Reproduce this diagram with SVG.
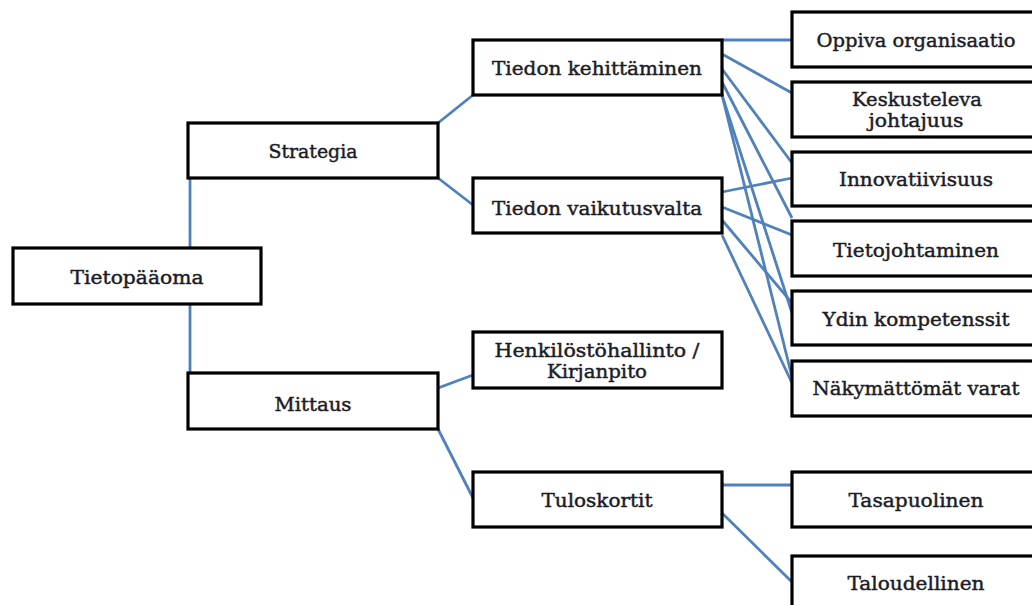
<svg xmlns="http://www.w3.org/2000/svg" width="1032" height="605" viewBox="0 0 1032 605">
<style>
.box{fill:#fff;stroke:#000;stroke-width:3.2}
.t{font-family:"DejaVu Serif","Liberation Serif",serif;font-size:19px;fill:#1c1c26;stroke:#1c1c26;stroke-width:0.45;text-anchor:middle}
.c line{stroke:#4f81bd;stroke-width:2.8;stroke-linecap:butt}
</style>
<rect width="1032" height="605" fill="#fff"/>
<g class="c" id="connectors">
<line x1="190" y1="178" x2="190" y2="248"/>
<line x1="190" y1="304" x2="190" y2="373"/>
<line x1="438" y1="123" x2="473" y2="95"/>
<line x1="438" y1="178" x2="473" y2="205"/>
<line x1="438" y1="388" x2="473" y2="375"/>
<line x1="438" y1="429" x2="473" y2="498"/>
<line x1="722" y1="485" x2="792" y2="485"/>
<line x1="722" y1="513" x2="792" y2="582"/>
<line x1="722" y1="40" x2="792" y2="40"/>
<line x1="722" y1="54" x2="792" y2="93"/>
<line x1="722" y1="69" x2="792" y2="163"/>
<line x1="722" y1="82" x2="792" y2="218"/>
<line x1="722" y1="95" x2="792" y2="313"/>
<line x1="722" y1="95" x2="792" y2="377"/>
<line x1="722" y1="192" x2="792" y2="178"/>
<line x1="722" y1="207" x2="792" y2="235"/>
<line x1="722" y1="220" x2="792" y2="303"/>
<line x1="722" y1="235" x2="792" y2="383"/>
</g>
<g id="n-tietopaaoma"><rect class="box" x="13" y="248" width="248" height="56"/><text class="t" x="137" y="284" textLength="133" lengthAdjust="spacingAndGlyphs">Tietopääoma</text></g>
<g id="n-strategia"><rect class="box" x="188" y="123" width="250" height="55"/><text class="t" x="313" y="158" textLength="89" lengthAdjust="spacingAndGlyphs">Strategia</text></g>
<g id="n-mittaus"><rect class="box" x="188" y="373" width="250" height="56"/><text class="t" x="313" y="411" textLength="77" lengthAdjust="spacingAndGlyphs">Mittaus</text></g>
<g id="n-kehittaminen"><rect class="box" x="473" y="40" width="249" height="55"/><text class="t" x="597" y="75" textLength="210" lengthAdjust="spacingAndGlyphs">Tiedon kehittäminen</text></g>
<g id="n-vaikutusvalta"><rect class="box" x="473" y="178" width="249" height="55"/><text class="t" x="597" y="215" textLength="210" lengthAdjust="spacingAndGlyphs">Tiedon vaikutusvalta</text></g>
<g id="n-henkilosto"><rect class="box" x="473" y="332" width="249" height="56"/><text class="t" x="597" y="357" textLength="205" lengthAdjust="spacingAndGlyphs">Henkilöstöhallinto /</text><text class="t" x="597" y="378" textLength="100" lengthAdjust="spacingAndGlyphs">Kirjanpito</text></g>
<g id="n-tuloskortit"><rect class="box" x="473" y="472" width="249" height="55"/><text class="t" x="597" y="507" textLength="111" lengthAdjust="spacingAndGlyphs">Tuloskortit</text></g>
<g id="n-oppiva"><rect class="box" x="792" y="12" width="250" height="55"/><text class="t" x="916" y="47" textLength="199" lengthAdjust="spacingAndGlyphs">Oppiva organisaatio</text></g>
<g id="n-keskusteleva"><rect class="box" x="792" y="82" width="250" height="55"/><text class="t" x="917" y="106" textLength="130" lengthAdjust="spacingAndGlyphs">Keskusteleva</text><text class="t" x="916" y="127" textLength="95" lengthAdjust="spacingAndGlyphs">johtajuus</text></g>
<g id="n-innovatiivisuus"><rect class="box" x="792" y="152" width="250" height="54"/><text class="t" x="916" y="186" textLength="154" lengthAdjust="spacingAndGlyphs">Innovatiivisuus</text></g>
<g id="n-tietojohtaminen"><rect class="box" x="792" y="221" width="250" height="55"/><text class="t" x="916" y="257" textLength="166" lengthAdjust="spacingAndGlyphs">Tietojohtaminen</text></g>
<g id="n-ydin"><rect class="box" x="792" y="291" width="250" height="54"/><text class="t" x="916" y="326" textLength="187" lengthAdjust="spacingAndGlyphs">Ydin kompetenssit</text></g>
<g id="n-nakymattomat"><rect class="box" x="792" y="361" width="250" height="55"/><text class="t" x="916" y="395" textLength="207" lengthAdjust="spacingAndGlyphs">Näkymättömät varat</text></g>
<g id="n-tasapuolinen"><rect class="box" x="792" y="472" width="250" height="55"/><text class="t" x="916" y="507" textLength="135" lengthAdjust="spacingAndGlyphs">Tasapuolinen</text></g>
<g id="n-taloudellinen"><rect class="box" x="792" y="556" width="250" height="60"/><text class="t" x="916" y="590" textLength="137" lengthAdjust="spacingAndGlyphs">Taloudellinen</text></g>
</svg>
